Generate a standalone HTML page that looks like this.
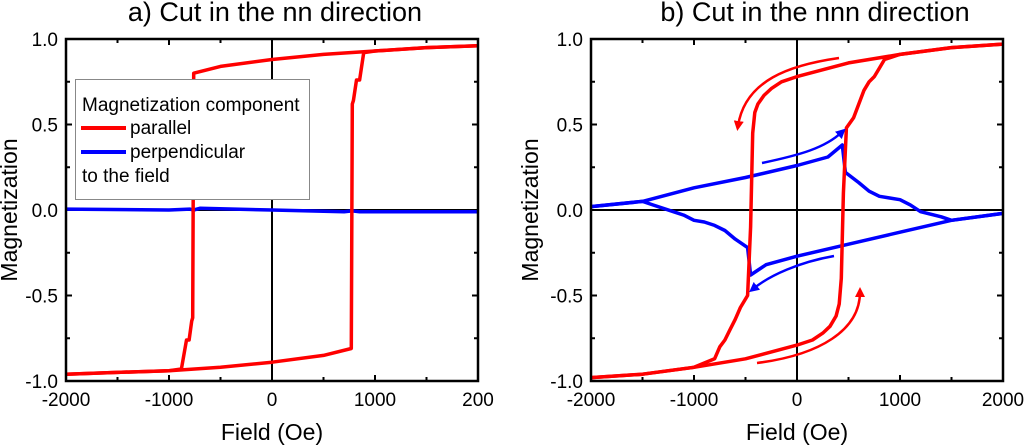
<!DOCTYPE html>
<html><head><meta charset="utf-8">
<style>
html,body{margin:0;padding:0;background:#fff;}
svg{display:block;font-family:"Liberation Sans",Arial,sans-serif;}
</style></head>
<body>
<svg id="chart" width="1024" height="445" viewBox="0 0 1024 445" xmlns="http://www.w3.org/2000/svg">
<defs>
<marker id="ahr" markerWidth="10" markerHeight="10" refX="5" refY="5" orient="auto" markerUnits="userSpaceOnUse"><path d="M0,0 L10,5 L0,10 Z" fill="#ff0000"/></marker>
<marker id="ahb" markerWidth="10" markerHeight="10" refX="5" refY="5" orient="auto" markerUnits="userSpaceOnUse"><path d="M0,0 L10,5 L0,10 Z" fill="#0000ff"/></marker>
</defs>
</svg>
<script>
// ---- data ----
var xTicks = [-2000,-1000,0,1000,2000];
var xTickLabelsA = ['-2000','-1000','0','1000','200'];
var xTickLabelsB = ['-2000','-1000','0','1000','2000'];
var yTicks = [-1.0,-0.5,0.0,0.5,1.0];
var yTickLabels = ['-1.0','-0.5','0.0','0.5','1.0'];

// Panel a: parallel
var aParDownH = [2000,1500,1000,500,0,-500,-760,-770,-780,-805,-830,-880,-1000,-1500,-2000];
var aParDownM = [0.96,0.95,0.93,0.91,0.88,0.84,0.80,-0.63,-0.65,-0.76,-0.76,-0.93,-0.94,-0.95,-0.96];
var aParUpH = [-2000,-1500,-1000,-500,0,500,770,780,790,820,850,890,1000,1500,2000];
var aParUpM = [-0.96,-0.95,-0.94,-0.92,-0.89,-0.85,-0.81,0.62,0.64,0.76,0.76,0.92,0.93,0.95,0.96];
// Panel a: perpendicular
var aPerpH = [-2000,-1000,-800,-760,-700,0,700,780,850,2000];
var aPerpM = [0.005,0.0,0.005,0.0,0.01,0.0,-0.01,-0.005,-0.01,-0.01];

// Panel b: parallel
var bParDownH = [2000,1500,1000,500,0,-150,-250,-320,-380,-410,-430,-450,-480,-550,-600,-650,-700,-750,-800,-1000,-1500,-2000];
var bParDownM = [0.97,0.95,0.91,0.86,0.78,0.75,0.71,0.67,0.62,0.57,0.45,-0.10,-0.50,-0.57,-0.64,-0.70,-0.76,-0.80,-0.87,-0.92,-0.96,-0.98];
var bParUpH = [-2000,-1500,-1000,-500,0,150,250,320,380,410,430,450,480,550,600,650,700,750,800,850,1000,1500,2000];
var bParUpM = [-0.98,-0.96,-0.92,-0.87,-0.79,-0.76,-0.72,-0.68,-0.62,-0.55,-0.40,0.10,0.48,0.54,0.62,0.70,0.75,0.78,0.83,0.88,0.91,0.95,0.97];
// Panel b: perpendicular
var bPerpUpH = [-2000,-1500,-1000,-500,0,300,440,470,600,700,800,900,1000,1100,1200,1400,1500,2000];
var bPerpUpM = [0.02,0.05,0.13,0.19,0.26,0.31,0.38,0.22,0.16,0.11,0.08,0.07,0.06,0.03,-0.01,-0.04,-0.06,-0.02];
var bPerpDownH = [2000,1500,1000,500,0,-300,-450,-480,-600,-700,-800,-900,-1000,-1100,-1200,-1400,-1500,-2000];
var bPerpDownM = [-0.02,-0.06,-0.13,-0.20,-0.27,-0.32,-0.38,-0.22,-0.17,-0.12,-0.09,-0.07,-0.06,-0.03,-0.01,0.03,0.05,0.02];

var NS = 'http://www.w3.org/2000/svg';
var svg = document.getElementById('chart');
function mk(tag, attrs, parent){
  var e = document.createElementNS(NS, tag);
  for (var k in attrs) e.setAttribute(k, attrs[k]);
  (parent||svg).appendChild(e);
  return e;
}

function panel(id, x0, x1, y0, y1, title, titleX, xLabels, ytitleX){
  var g = mk('g', {});
  
  
  var sx = function(h){ return x0 + (h + 2000) / 4000 * (x1 - x0); };
  var sy = function(m){ return y1 - (m + 1) / 2 * (y1 - y0); };
  var t = mk('text', {x: titleX, y: 21, 'font-size': 27, 'text-anchor': 'middle', fill: '#000'}, g);
  t.textContent = title;
  
  
  var zl = mk('line', {x1: sx(0), x2: sx(0), y1: y0, y2: y1, stroke: '#000', 'stroke-width': 2}, g);
  
  
  var zh = mk('line', {x1: x0, x2: x1, y1: sy(0), y2: sy(0), stroke: '#000', 'stroke-width': 2}, g);
  
  
  for (var h = -2000; h <= 2000; h += 500) {
    var len = (h % 1000 === 0) ? 6 : 4;
    mk('line', {x1: sx(h), x2: sx(h), y1: y1, y2: y1 - len, stroke: '#000', 'stroke-width': 2}, g);
    mk('line', {x1: sx(h), x2: sx(h), y1: y0, y2: y0 + len, stroke: '#000', 'stroke-width': 2}, g);
  }
  for (var m = -1; m <= 1.001; m += 0.25) {
    var len2 = (Math.abs(m * 2 - Math.round(m * 2)) < 1e-6) ? 6 : 4;
    mk('line', {x1: x0, x2: x0 + len2, y1: sy(m), y2: sy(m), stroke: '#000', 'stroke-width': 2}, g);
    mk('line', {x1: x1, x2: x1 - len2, y1: sy(m), y2: sy(m), stroke: '#000', 'stroke-width': 2}, g);
  }
  xTicks.forEach(function(v, i){
    var tl = mk('text', {x: sx(v), y: y1 + 25, 'font-size': 19, 'text-anchor': 'middle', fill: '#000'}, g);
    tl.textContent = xLabels[i];
    
    
  });
  yTicks.forEach(function(v, i){
    var tl = mk('text', {x: x0 - 8, y: sy(v) + 7, 'font-size': 19, 'text-anchor': 'end', fill: '#000'}, g);
    tl.textContent = yTickLabels[i];
    
    
  });
  var xt = mk('text', {x: (x0 + x1) / 2, y: 440, 'font-size': 23, 'text-anchor': 'middle', fill: '#000'}, g);
  xt.textContent = 'Field (Oe)';
  
  
  var yt = mk('text', {x: 0, y: 0, 'font-size': 23, 'text-anchor': 'middle', fill: '#000', transform: 'translate(' + ytitleX + ',' + (y0 + y1) / 2 + ') rotate(-90)'}, g);
  yt.textContent = 'Magnetization';
  
  
  return {g: g, sx: sx, sy: sy, x0: x0, x1: x1, y0: y0, y1: y1};
}

function series(p, H, M, color, name){
  var d = H.map(function(h, i){ return (i ? 'L' : 'M') + p.sx(h).toFixed(1) + ',' + p.sy(M[i]).toFixed(1); }).join(' ');
  var path = mk('path', {d: d, fill: 'none', stroke: color, 'stroke-width': 3.5, 'stroke-linejoin': 'round'}, p.g);
  
  
}
function frame(p){
  var r = mk('rect', {x: p.x0, y: p.y0, width: p.x1 - p.x0, height: p.y1 - p.y0, fill: 'none', stroke: '#000', 'stroke-width': 2.5}, p.g);
  
  
}

// Panel a
var pa = panel('panel-a-nn', 66, 478, 39, 381, 'a) Cut in the nn direction', 275, xTickLabelsA, 17);
series(pa, aPerpH, aPerpM, '#0000ff', 'series-a-perpendicular');
series(pa, aParDownH, aParDownM, '#ff0000', 'series-a-parallel-descending');
series(pa, aParUpH, aParUpM, '#ff0000', 'series-a-parallel-ascending');
frame(pa);
var lg = mk('g', {}, pa.g);


mk('rect', {x: 75.5, y: 79.5, width: 234, height: 120, fill: '#fff', stroke: '#888', 'stroke-width': 1}, lg);
var lt1 = mk('text', {x: 82, y: 111, 'font-size': 19, fill: '#000'}, lg);
lt1.textContent = 'Magnetization component';


mk('line', {x1: 81, x2: 126, y1: 128, y2: 128, stroke: '#ff0000', 'stroke-width': 4}, lg);
var lt2 = mk('text', {x: 130, y: 134, 'font-size': 19, fill: '#000'}, lg);
lt2.textContent = 'parallel';


mk('line', {x1: 81, x2: 126, y1: 152, y2: 152, stroke: '#0000ff', 'stroke-width': 4}, lg);
var lt3 = mk('text', {x: 130, y: 158, 'font-size': 19, fill: '#000'}, lg);
lt3.textContent = 'perpendicular';


var lt4 = mk('text', {x: 82, y: 182, 'font-size': 19, fill: '#000'}, lg);
lt4.textContent = 'to the field';



// Panel b
var pb = panel('panel-b-nnn', 591, 1003, 39, 381, 'b) Cut in the nnn direction', 815, xTickLabelsB, 538);
series(pb, bPerpUpH, bPerpUpM, '#0000ff', 'series-b-perpendicular-upper');
series(pb, bPerpDownH, bPerpDownM, '#0000ff', 'series-b-perpendicular-lower');
series(pb, bParDownH, bParDownM, '#ff0000', 'series-b-parallel-descending');
series(pb, bParUpH, bParUpM, '#ff0000', 'series-b-parallel-ascending');
frame(pb);
var arrows = [
  ['M839,58 C790,65 745,80 738,126', '#ff0000', 'ahr', 'arrow-red-down'],
  ['M757,363 C820,355 860,330 860,292', '#ff0000', 'ahr', 'arrow-red-up'],
  ['M762,163 C800,155 825,148 842,132', '#0000ff', 'ahb', 'arrow-blue-up'],
  ['M834,256 C800,262 770,275 753,289', '#0000ff', 'ahb', 'arrow-blue-down']
];
arrows.forEach(function(a){
  var p = mk('path', {d: a[0], fill: 'none', stroke: a[1], 'stroke-width': 2.5, 'marker-end': 'url(#' + a[2] + ')'}, pb.g);
  
  
});
</script>
</body></html>
